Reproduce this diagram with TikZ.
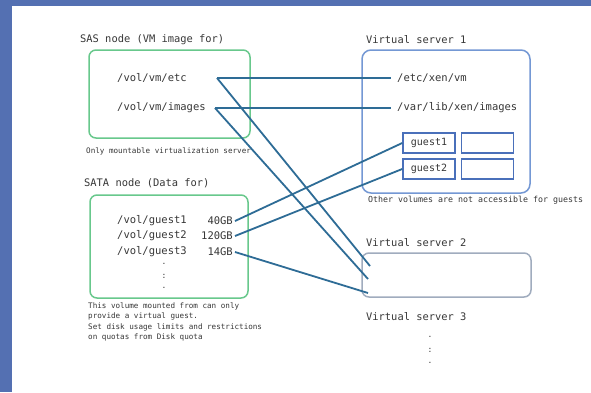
\documentclass[tikz,border=0pt]{standalone}
\usepackage{fontspec}
\setmonofont{DejaVu Sans Mono}
\usepackage{xcolor}
\usetikzlibrary{positioning, arrows.meta, calc}

\definecolor{framebg}{RGB}{84,112,178}
\definecolor{sasgreen}{RGB}{104,200,140}
\definecolor{vsblue}{RGB}{116,152,212}
\definecolor{guestblue}{RGB}{74,112,186}
\definecolor{vsgray}{RGB}{160,172,190}
\definecolor{linkblue}{RGB}{46,108,150}
\definecolor{txtgray}{RGB}{55,55,55}

\begin{document}
\begin{tikzpicture}[
  x=1pt, y=-1pt,
  head/.style={anchor=west, inner sep=0pt, text=txtgray,
               font=\ttfamily\fontsize{10.4}{12}\selectfont},
  volname/.style={head, font=\ttfamily\fontsize{10.5}{12}\selectfont},
  note/.style={anchor=north west, inner sep=0pt, align=left, text=txtgray,
               font=\ttfamily\fontsize{7.6}{10.6}\selectfont},
  storebox/.style={draw=sasgreen, line width=1.5pt, rounded corners=7pt},
  vmbox/.style={draw=vsblue, line width=1.5pt, rounded corners=9pt},
  guestbox/.style={draw=guestblue, line width=1.5pt, minimum width=52pt,
                   minimum height=20pt, inner sep=0pt, text=txtgray,
                   font=\ttfamily\fontsize{10}{10}\selectfont},
  link/.style={draw=linkblue, line width=1.8pt},
  vdots/.style={inner sep=0pt, text=txtgray, font=\ttfamily\fontsize{8}{8}\selectfont},
]
  \useasboundingbox (0,0) rectangle (591,392);
  \fill[white] (0,0) rectangle (591,392);
  % frame
  \fill[framebg] (0,0) rectangle (12,392);
  \fill[framebg] (0,0) rectangle (591,6);

  % SAS node
  \node[head] (sas-head) at (80,40) {SAS node (VM image for)};
  \node[storebox, minimum width=161pt, minimum height=88pt] (sas) at (169.5,94) {};
  \node[volname] (vmetc) at (117,78) {/vol/vm/etc};
  \node[volname] (vmimg) at (117,108) {/vol/vm/images};
  \node[note] (sas-note) at (86,147) {Only mountable virtualization server};
  \coordinate (etc-src) at (217,78);
  \coordinate (img-src) at (215,108);

  % SATA node
  \node[head] (sata-head) at (84,183) {SATA node (Data for)};
  \node[storebox, minimum width=158pt, minimum height=103pt] (sata) at (169,246.5) {};
  \node[volname] (g1vol) at (117,221) {/vol/guest1};
  \node[volname] (g2vol) at (117,236) {/vol/guest2};
  \node[volname] (g3vol) at (117,252) {/vol/guest3};
  \node[volname, anchor=east] (g1size) at (233,221) {40GB};
  \node[volname, anchor=east] (g2size) at (233,236) {120GB};
  \node[volname, anchor=east] (g3size) at (233,252) {14GB};
  \node[vdots] (sata-d1) at (164,264) {.};
  \node[vdots] (sata-d2) at (164,276) {:};
  \node[vdots] (sata-d3) at (164,288) {.};
  \node[note] (sata-note) at (88,302) {This volume mounted from can only\\
    provide a virtual guest.\\Set disk usage limits and restrictions\\
    on quotas from Disk quota};

  % Virtual server 1
  \node[head] (vs1-head) at (366,40) {Virtual server 1};
  \node[vmbox, minimum width=168pt, minimum height=143pt] (vs1) at (446,121.5) {};
  \node[volname] (xenvm) at (397,78) {/etc/xen/vm};
  \node[volname] (xenimg) at (397,108) {/var/lib/xen/images};
  \node[guestbox] (guest1) at (429,143) {guest1};
  \node[guestbox] (slot1) at (487.5,143) {};
  \node[guestbox] (guest2) at (429,169) {guest2};
  \node[guestbox] (slot2) at (487.5,169) {};
  \node[note, font=\ttfamily\fontsize{8.3}{10}\selectfont] (vs1-note) at (368,196)
    {Other volumes are not accessible for guests};

  % Virtual server 2 and 3
  \node[head] (vs2-head) at (366,243) {Virtual server 2};
  \node[draw=vsgray, line width=1.5pt, rounded corners=7pt,
        minimum width=169pt, minimum height=44pt] (vs2) at (446.5,275) {};
  \node[head] (vs3-head) at (366,317) {Virtual server 3};
  \node[vdots] (vs3-d1) at (430,337) {.};
  \node[vdots] (vs3-d2) at (430,350) {:};
  \node[vdots] (vs3-d3) at (430,363) {.};
  \coordinate (vs2-in1) at (370,266);
  \coordinate (vs2-in2) at (368,279);
  \coordinate (vs2-in3) at (368,293);

  % links
  \draw[link] (etc-src) -- ([xshift=-6pt]xenvm.west);
  \draw[link] (img-src) -- ([xshift=-6pt]xenimg.west);
  \draw[link] (etc-src) -- (vs2-in1);
  \draw[link] (img-src) -- (vs2-in2);
  \draw[link] ([xshift=2pt]g1size.east) -- (guest1.west);
  \draw[link] ([xshift=2pt]g2size.east) -- (guest2.west);
  \draw[link] ([xshift=2pt]g3size.east) -- (vs2-in3);
\end{tikzpicture}
\end{document}
